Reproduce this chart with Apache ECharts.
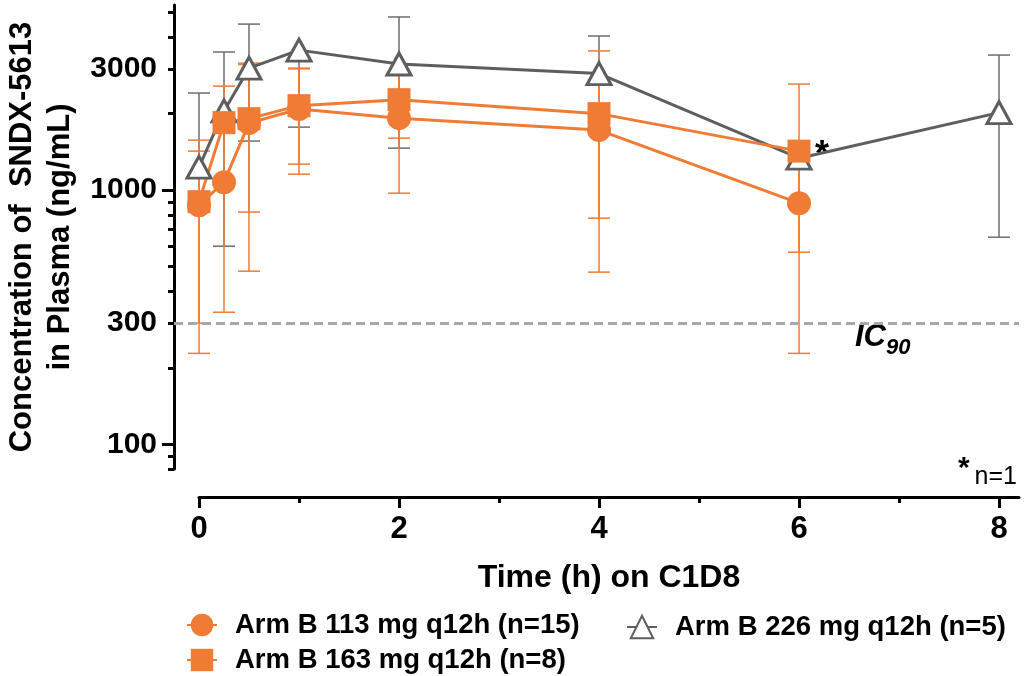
<!DOCTYPE html>
<html><head><meta charset="utf-8">
<script src="https://cdn.jsdelivr.net/npm/echarts@6/dist/echarts.min.js"></script>
<style>html,body{margin:0;padding:0;background:#fff}#c{width:1031px;height:676px}</style>
</head><body><div id="c"></div>
<script>
// ---- data ----
const times = [0, 0.25, 0.5, 1, 2, 4, 6, 8];
const arm113   = [873, 1075, 1836, 2085, 1920, 1723, 889, null];
const arm113Lo = [228, 331, 480, 1156, 973, 476, 228, null];
const arm113Hi = [1573, 2566, 3160, 3020, 2940, 3530, 2614, null];
const arm163   = [901, 1843, 1911, 2150, 2270, 2000, 1424, null];
const arm163Lo = [300, null, 820, 1266, 1602, 776, 570, null];
const arm163Hi = [1424, null, 3120, 3000, 2900, 2660, null, null];
const arm226   = [1232, 2050, 3020, 3555, 3135, 2875, 1336, 2018];
const arm226Lo = [null, 602, 1560, 1770, 1463, null, null, 653];
const arm226Hi = [2410, 3495, 4500, null, 4800, 4040, null, 3400];
const seriesNames = ['Arm B 113 mg q12h (n=15)', 'Arm B 163 mg q12h (n=8)', 'Arm B 226 mg q12h (n=5)'];
const ic90 = 300;
const yLabelValues = [100, 300, 1000, 3000];
const yMajorTicks = [100, 1000];
const yMinorTicks = [80, 90, 200, 300, 400, 500, 600, 700, 800, 900, 2000, 3000, 4000, 5000];
const xLabelValues = [0, 2, 4, 6, 8];
const xMinorTicks = [1, 3, 5, 7];

const ORANGE = '#F07B35';
const GRAY = '#5E5E5E';
const GRAY_ERR = '#6E6E6E';
const FONT = 'Liberation Sans, Arial, sans-serif';

function pts(v) { return times.map((t, i) => [t, v[i]]).filter(d => d[1] != null); }
function errPts(v, lo, hi) {
  return times.map((t, i) => [t, lo[i] == null ? v[i] : lo[i], hi[i] == null ? v[i] : hi[i], v[i]])
              .filter(d => d[3] != null && (d[1] !== d[3] || d[2] !== d[3]));
}
function errRender(color) {
  return function (params, api) {
    const x = api.value(0), lo = api.value(1), hi = api.value(2), v = api.value(3);
    const pL = api.coord([x, lo]), pH = api.coord([x, hi]);
    const hw = 11;
    const st = { stroke: color, lineWidth: 1.5 };
    const ch = [{ type: 'line', shape: { x1: pL[0], y1: pL[1], x2: pH[0], y2: pH[1] }, style: st }];
    if (lo !== v) ch.push({ type: 'line', shape: { x1: pL[0] - hw, y1: pL[1], x2: pL[0] + hw, y2: pL[1] }, style: st });
    if (hi !== v) ch.push({ type: 'line', shape: { x1: pH[0] - hw, y1: pH[1], x2: pH[0] + hw, y2: pH[1] }, style: st });
    return { type: 'group', children: ch };
  };
}

const chart = echarts.init(document.getElementById('c'), null, { renderer: 'canvas' });
const legendBase = {
  orient: 'horizontal', itemWidth: 30, itemHeight: 28, itemGap: 0, padding: 0,
  textStyle: { fontSize: 27.5, fontWeight: 'bold', color: '#000', fontFamily: FONT, padding: [0, 0, 0, 13] },
  selectedMode: false
};
chart.setOption({
  animation: false,
  backgroundColor: '#fff',
  textStyle: { fontFamily: FONT },
  grid: [
    { left: 174, right: 12, top: 5, bottom: 207, containLabel: false, outerBoundsMode: 'none' },
    { left: 199, right: 12, top: 5, bottom: 179, containLabel: false, outerBoundsMode: 'none' }
  ],
  xAxis: [
    { type: 'value', gridIndex: 0, min: -0.25, max: 8.2, show: false },
    { type: 'value', gridIndex: 1, min: 0, max: 8.2, position: 'bottom',
      axisLine: { show: true, onZero: false, lineStyle: { color: '#000', width: 3 } },
      axisTick: { show: true, customValues: xLabelValues, length: 11, lineStyle: { color: '#000', width: 3 } },
      axisLabel: { show: true, customValues: xLabelValues, fontSize: 31, fontWeight: 'bold', color: '#000', margin: 17, fontFamily: FONT },
      splitLine: { show: false },
      name: 'Time (h) on C1D8', nameLocation: 'middle', nameGap: 65,
      nameTextStyle: { fontSize: 32, fontWeight: 'bold', color: '#000', fontFamily: FONT } },
    { type: 'value', gridIndex: 1, min: 0, max: 8.2, position: 'bottom',
      axisLine: { show: false, onZero: false },
      axisTick: { show: true, customValues: xMinorTicks, length: 6, lineStyle: { color: '#000', width: 3 } },
      axisLabel: { show: false }, splitLine: { show: false } }
  ],
  yAxis: [
    { type: 'log', logBase: 10, gridIndex: 0, min: 80, max: 5350, position: 'left',
      axisLine: { show: true, onZero: false, lineStyle: { color: '#000', width: 3 } },
      axisTick: { show: true, customValues: yMajorTicks, length: 12, lineStyle: { color: '#000', width: 3 } },
      axisLabel: { show: true, customValues: yLabelValues, formatter: v => String(Math.round(v)),
                   fontSize: 30, fontWeight: 'bold', color: '#000', margin: 17, fontFamily: FONT },
      splitLine: { show: false },
      name: 'Concentration of  SNDX-5613\nin Plasma (ng/mL)', nameLocation: 'middle', nameGap: 79,
      nameTextStyle: { fontSize: 31, fontWeight: 'bold', color: '#000', lineHeight: 38, fontFamily: FONT } },
    { type: 'log', logBase: 10, gridIndex: 0, min: 80, max: 5350, position: 'left',
      axisLine: { show: false, onZero: false },
      axisTick: { show: true, customValues: yMinorTicks, length: 6, lineStyle: { color: '#000', width: 3 } },
      axisLabel: { show: false }, splitLine: { show: false } },
    { type: 'value', gridIndex: 1, show: false }
  ],
  legend: [
    Object.assign({}, legendBase, { left: 186, top: 611, data: [seriesNames[0]] }),
    Object.assign({}, legendBase, { left: 626, top: 613, data: [seriesNames[2]] }),
    Object.assign({}, legendBase, { left: 186, top: 646, data: [seriesNames[1]] })
  ],
  series: [
    { type: 'custom', name: 'err226', xAxisIndex: 0, yAxisIndex: 0, renderItem: errRender(GRAY_ERR),
      data: errPts(arm226, arm226Lo, arm226Hi), encode: { x: 0, y: [1, 2] }, clip: false, silent: true },
    { type: 'line', name: seriesNames[2], xAxisIndex: 0, yAxisIndex: 0, data: pts(arm226),
      symbol: 'triangle', symbolSize: [24, 22], clip: false,
      lineStyle: { color: GRAY, width: 3 },
      itemStyle: { color: '#fff', borderColor: GRAY, borderWidth: 3 },
      markLine: { silent: true, symbol: ['none', 'none'], label: { show: false },
        lineStyle: { type: [9, 5], color: '#A8A8A8', width: 3 },
        data: [{ yAxis: ic90 }] } },
    { type: 'custom', name: 'err113', xAxisIndex: 0, yAxisIndex: 0, renderItem: errRender(ORANGE),
      data: errPts(arm113, arm113Lo, arm113Hi), encode: { x: 0, y: [1, 2] }, clip: false, silent: true },
    { type: 'line', name: seriesNames[0], xAxisIndex: 0, yAxisIndex: 0, data: pts(arm113),
      symbol: 'circle', symbolSize: 24, clip: false,
      lineStyle: { color: ORANGE, width: 3 }, itemStyle: { color: ORANGE, borderWidth: 0 } },
    { type: 'custom', name: 'err163', xAxisIndex: 0, yAxisIndex: 0, renderItem: errRender(ORANGE),
      data: errPts(arm163, arm163Lo, arm163Hi), encode: { x: 0, y: [1, 2] }, clip: false, silent: true },
    { type: 'line', name: seriesNames[1], xAxisIndex: 0, yAxisIndex: 0, data: pts(arm163),
      symbol: 'rect', symbolSize: 23, clip: false,
      lineStyle: { color: ORANGE, width: 3 }, itemStyle: { color: ORANGE, borderWidth: 0 } }
  ],
  graphic: [
    { type: 'text', left: 815, top: 138, style: { text: '*', font: 'bold 36px ' + FONT, fill: '#000' } },
    { type: 'text', left: 855, top: 322, style: { text: 'IC', font: 'italic bold 31px ' + FONT, fill: '#000' } },
    { type: 'text', left: 886, top: 337, style: { text: '90', font: 'italic bold 22px ' + FONT, fill: '#000' } },
    { type: 'text', left: 958, top: 454, style: { text: '*', font: 'bold 30px ' + FONT, fill: '#000' } },
    { type: 'text', right: 14, top: 465, style: { text: 'n=1', font: '25px ' + FONT, fill: '#000' } }
  ]
});
</script></body></html>
